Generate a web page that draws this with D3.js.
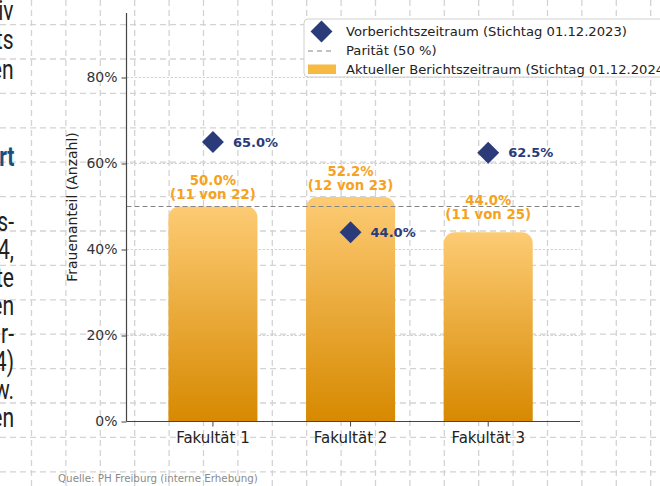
<!DOCTYPE html>
<html>
<head>
<meta charset="utf-8">
<script src="https://cdn.jsdelivr.net/npm/d3@7"></script>
<style>
  body { margin: 0; background: #fff; overflow: hidden; }
  svg { display: block; font-family: "DejaVu Sans", sans-serif; }
</style>
</head>
<body>
<script>
// data
var categories = ["Fakultät 1", "Fakultät 2", "Fakultät 3"];
var currentShare = [0.500, 0.522, 0.440];
var currentWomen = [11, 12, 11];
var currentTotal = [22, 23, 25];
var previousShare = [0.650, 0.440, 0.625];
var parityShare = 0.5;
var yTicks = [0, 0.2, 0.4, 0.6, 0.8];
var legendLabels = ["Vorberichtszeitraum (Stichtag 01.12.2023)", "Parität (50 %)", "Aktueller Berichtszeitraum (Stichtag 01.12.2024)"];
var yLabel = "Frauenanteil (Anzahl)";
var sourceText = "Quelle: PH Freiburg (interne Erhebung)";
// text of the page behind, cut off at the left edge
var sideTop = ["iv", "ts", "en"];
var sideHeading = "rt";
var sideBottom = ["s-", "4,", "te", "en", "r-", "4)", "w.", "en"];

var width = 660, height = 486;
var navy = "#2b3a78", orange = "#f5a31c";

var svg = d3.select("body").append("svg")
    .attr("width", width)
    .attr("height", height);

// page background: dashed graph paper
var bg = svg.append("g").attr("class", "paper");
bg.selectAll(".vline")
    .data(d3.range(0, 19))
  .enter().append("line")
    .attr("x1", (k) => 31.5 + 34.4 * k).attr("x2", (k) => 31.5 + 34.4 * k)
    .attr("y1", 0).attr("y2", height)
    .attr("stroke", "#d3d3d3").attr("stroke-width", 1.3)
    .attr("stroke-dasharray", "6,4");
bg.selectAll(".hline")
    .data(d3.range(-1, 14))
  .enter().append("line")
    .attr("y1", (k) => 24.6 + 34.4 * k).attr("y2", (k) => 24.6 + 34.4 * k)
    .attr("x1", 0).attr("x2", width)
    .attr("stroke", "#d3d3d3").attr("stroke-width", 1.3)
    .attr("stroke-dasharray", "6,4");

// left page text (condensed)
var side = svg.append("g").attr("transform", "scale(0.78,1)")
    .style("font-family", "Roboto, 'Liberation Sans', sans-serif")
    .style("font-size", "27px")
    .attr("text-anchor", "end");
side.selectAll(".top").data(sideTop).enter().append("text")
    .attr("x", 13.5 / 0.78).attr("y", (d, i) => 20 + 29.5 * i)
    .attr("fill", "#222").text((d) => d);
side.append("text")
    .attr("x", 14.5 / 0.78).attr("y", 166)
    .attr("fill", "#1d4e7e").attr("font-weight", "bold").text(sideHeading);
side.selectAll(".bottom").data(sideBottom).enter().append("text")
    .attr("x", 14 / 0.78).attr("y", (d, i) => 231 + 28 * i)
    .attr("fill", "#222").text((d) => d);

// chart
var x = d3.scaleBand().domain(categories).range([126.5, 580])
    .paddingInner(0.353).paddingOuter(0.324).align(0.47);
var y = d3.scaleLinear().domain([0, 0.95]).range([421.5, 13]);

var defs = svg.append("defs");
var grad = defs.append("linearGradient").attr("id", "barGrad")
    .attr("x1", 0).attr("y1", 0).attr("x2", 0).attr("y2", 1);
grad.append("stop").attr("offset", "0%").attr("stop-color", "#fdcb74");
grad.append("stop").attr("offset", "100%").attr("stop-color", "#d78900");

var chart = svg.append("g");

// horizontal grid at the ticks
chart.selectAll(".grid")
    .data(yTicks.filter((t) => t > 0))
  .enter().append("line")
    .attr("x1", x.range()[0]).attr("x2", x.range()[1])
    .attr("y1", (d) => y(d)).attr("y2", (d) => y(d))
    .attr("stroke", "#c8c8c8").attr("stroke-width", 0.8)
    .attr("stroke-dasharray", "2.5,1.5");

// bars with rounded top corners
function barPath(x0, y0, w, h, r) {
  r = Math.min(r, h, w / 2);
  return "M" + x0 + "," + (y0 + h) + "V" + (y0 + r) +
    "A" + r + "," + r + " 0 0 1 " + (x0 + r) + "," + y0 +
    "H" + (x0 + w - r) +
    "A" + r + "," + r + " 0 0 1 " + (x0 + w) + "," + (y0 + r) +
    "V" + (y0 + h) + "Z";
}
chart.selectAll(".bar")
    .data(categories)
  .enter().append("path")
    .attr("class", "bar")
    .attr("d", (d, i) => barPath(x(d), y(currentShare[i]), x.bandwidth(), y(0) - y(currentShare[i]), 11))
    .attr("fill", "url(#barGrad)");

// parity line
chart.append("line")
    .attr("x1", x.range()[0]).attr("x2", x.range()[1])
    .attr("y1", y(parityShare)).attr("y2", y(parityShare))
    .attr("stroke", "#858585").attr("stroke-width", 1.2)
    .attr("stroke-dasharray", "5,3");

// bar labels: two lines, kept off the parity line
var lineGap = 14, lift = 7.5, parityY = y(parityShare);
categories.forEach(function(c, i) {
  var top = y(currentShare[i]);
  var b2 = top - lift, b1 = b2 - lineGap;
  if (parityY > b1 - 10 && parityY < b2) {
    b1 = parityY - 2;
    b2 = b1 + lineGap;
  }
  var g = chart.append("g").attr("text-anchor", "middle")
      .attr("fill", orange).attr("font-weight", "bold").style("font-size", "13.3px");
  g.append("text").attr("x", x(c) + x.bandwidth() / 2).attr("y", b1)
      .text(d3.format(".1%")(currentShare[i]));
  g.append("text").attr("x", x(c) + x.bandwidth() / 2).attr("y", b2)
      .text("(" + currentWomen[i] + " von " + currentTotal[i] + ")");
});

// previous period markers
var diamond = d3.symbol().type(d3.symbolSquare).size(240);
chart.selectAll(".prev")
    .data(categories)
  .enter().append("path")
    .attr("d", diamond)
    .attr("transform", (d, i) => "translate(" + (x(d) + x.bandwidth() / 2) + "," + y(previousShare[i]) + ") rotate(45)")
    .attr("fill", navy);
chart.selectAll(".prevLabel")
    .data(categories)
  .enter().append("text")
    .attr("x", (d) => x(d) + x.bandwidth() / 2 + 20)
    .attr("y", (d, i) => y(previousShare[i]))
    .attr("dy", "0.36em")
    .attr("fill", navy).attr("font-weight", "bold").style("font-size", "13px")
    .text((d, i) => d3.format(".1%")(previousShare[i]));

// axes
var yAxis = d3.axisLeft(y).tickValues(yTicks).tickFormat(d3.format(".0%"))
    .tickSize(5).tickPadding(4);
var gy = chart.append("g").attr("transform", "translate(" + x.range()[0] + ",0)").call(yAxis);
gy.select(".domain").attr("d", "M0," + y.range()[1] + "V" + y.range()[0])
    .attr("stroke", "#444").attr("stroke-width", 1.2);
gy.selectAll(".tick line").attr("stroke", "#444");
gy.selectAll(".tick text").attr("fill", "#333").style("font-size", "14px")
    .style("font-family", "DejaVu Sans");

var xAxis = d3.axisBottom(x).tickSize(5).tickPadding(6);
var gx = chart.append("g").attr("transform", "translate(0," + y(0) + ")").call(xAxis);
gx.select(".domain").attr("d", "M" + x.range()[0] + ",0H" + x.range()[1])
    .attr("stroke", "#444").attr("stroke-width", 1.2);
gx.selectAll(".tick line").attr("stroke", "#444");
gx.selectAll(".tick text").attr("fill", "#222").style("font-size", "15px")
    .style("font-family", "DejaVu Sans");

chart.append("text")
    .attr("transform", "translate(77,207) rotate(-90)")
    .attr("text-anchor", "middle")
    .attr("fill", "#222").style("font-size", "14px")
    .text(yLabel);

// legend
var legend = svg.append("g").attr("transform", "translate(304,19)");
legend.append("rect")
    .attr("width", 420).attr("height", 58).attr("rx", 4)
    .attr("fill", "#fff").attr("stroke", "#cfcfcf");
legend.append("path")
    .attr("d", diamond)
    .attr("transform", "translate(17.5,12.5) rotate(45)")
    .attr("fill", navy);
legend.append("line")
    .attr("x1", 4).attr("x2", 30).attr("y1", 32).attr("y2", 32)
    .attr("stroke", "#858585").attr("stroke-width", 1.2)
    .attr("stroke-dasharray", "5,4");
legend.append("rect")
    .attr("x", 4).attr("y", 45.5).attr("width", 28).attr("height", 9.5)
    .attr("fill", "#f6b942");
legend.selectAll(".ltext")
    .data(legendLabels)
  .enter().append("text")
    .attr("x", 42).attr("y", (d, i) => 17 + 19 * i)
    .attr("fill", "#222").style("font-size", "13.15px")
    .text((d) => d);

// source
svg.append("text")
    .attr("x", 58).attr("y", 482)
    .attr("fill", "#8a8a8a").style("font-size", "10.3px")
    .text(sourceText);
</script>
</body>
</html>
